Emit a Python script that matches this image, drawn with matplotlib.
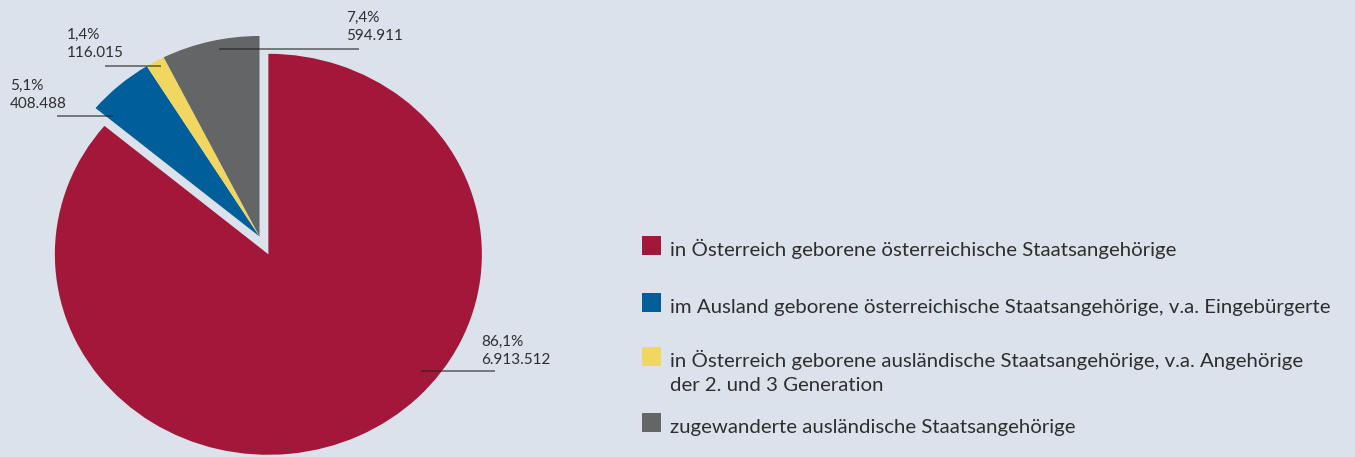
import matplotlib
matplotlib.use("Agg")
import matplotlib.pyplot as plt
from matplotlib.patches import Rectangle

plt.rcParams['font.family'] = ['Lato', 'DejaVu Sans']

# data
categories = [
    "in Österreich geborene österreichische Staatsangehörige",
    "im Ausland geborene österreichische Staatsangehörige, v.a. Eingebürgerte",
    "in Österreich geborene ausländische Staatsangehörige, v.a. Angehörige\nder 2. und 3 Generation",
    "zugewanderte ausländische Staatsangehörige",
]
values = [6913512, 408488, 116015, 594911]
pct_labels = ["86,1%", "5,1%", "1,4%", "7,4%"]
num_labels = ["6.913.512", "408.488", "116.015", "594.911"]
colors = ["#a3173a", "#005e9a", "#f1d75f", "#646567"]

BG = "#dbe2ec"
TXT = "#2e2e2e"
W, H = 1355, 457

fig = plt.figure(figsize=(W / 100, H / 100), dpi=100, facecolor=BG)

# pie is slightly wider than tall in the reference
RX, RY = 213.5, 200.5
cx, cy = 259.5, 236.5
ax = fig.add_axes([0, 0, 1, 1])
ax.set_facecolor(BG)

ax.pie(values, colors=colors, startangle=90, counterclock=False,
       explode=[0.098, 0, 0, 0], radius=1.0,
       wedgeprops=dict(linewidth=0))
ax.set_aspect("auto")
ax.set_xlim(-cx / RX, (W - cx) / RX)
ax.set_ylim(-(H - cy) / RY, cy / RY)
ax.axis("off")


def px(x, y):
    return ((x - cx) / RX, (cy - y) / RY)


# leader lines + labels (pixel layout)
label_pos = [(481, 351), (10, 95), (67, 44), (346, 27)]
line_pos = [(421, 495, 371), (57, 113, 116), (105, 161, 66), (219, 359, 49)]
for i in range(len(values)):
    x0, x1, yl = line_pos[i]
    ax.plot([px(x0, yl)[0], px(x1, yl)[0]], [px(x0, yl)[1]] * 2,
            color="#222222", alpha=0.6, lw=1.3, solid_capstyle="butt")
    tx, ty = px(*label_pos[i])
    ax.text(tx, ty, pct_labels[i] + "\n" + num_labels[i], fontsize=11,
            color=TXT, ha="left", va="center", linespacing=1.3)

# legend
sq = 19
sq_bottom = [255, 312, 366, 432]
for i, cat in enumerate(categories):
    b = sq_bottom[i]
    x0, y0 = px(642, b)
    ax.add_patch(Rectangle((x0, y0), sq / RX, sq / RY, color=colors[i], lw=0))
    for k, line in enumerate(cat.split("\n")):
        tx, tyy = px(670, b + 1 + 24.3 * k)
        ax.text(tx, tyy, line, fontsize=14.7, color=TXT, ha="left",
                va="baseline")

fig.savefig("out.png", dpi=100, facecolor=BG)
